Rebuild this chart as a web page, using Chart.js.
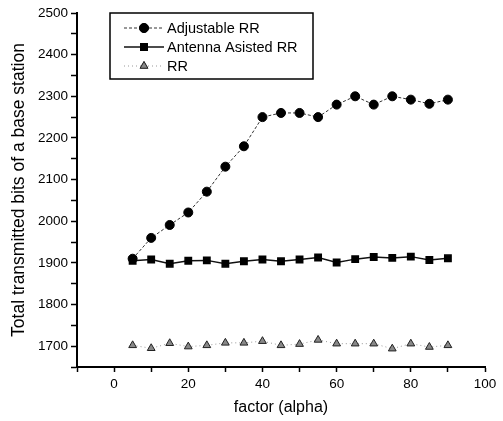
<!DOCTYPE html>
<html>
<head>
<meta charset="utf-8">
<script src="https://cdn.jsdelivr.net/npm/chart.js@4.4.1/dist/chart.umd.min.js"></script>
<style>
    html, body { margin: 0; padding: 0; background: #fff; }
    #wrap { width: 503px; height: 421px; }
</style>
</head>
<body>
<div id="wrap"><canvas id="chart" width="503" height="421"></canvas></div>
<script>
const alphaValues = [5, 10, 15, 20, 25, 30, 35, 40, 45, 50, 55, 60, 65, 70, 75, 80, 85, 90];
const adjustableRR = [1910, 1960, 1991, 2021, 2071, 2131, 2180, 2250, 2260, 2260, 2250, 2280, 2300, 2280, 2300, 2292, 2282, 2292];
const antennaRR = [1905, 1908, 1898, 1905, 1906, 1898, 1904, 1908, 1904, 1908, 1913, 1901, 1909, 1914, 1912, 1915, 1907, 1911];
const plainRR = [1702, 1695, 1707, 1699, 1702, 1708, 1708, 1712, 1702, 1705, 1715, 1706, 1706, 1706, 1694, 1706, 1698, 1702];
const seriesNames = ['Adjustable RR', 'Antenna Asisted RR', 'RR'];

const FONT = '"Liberation Sans", Arial, sans-serif';

function toPoints(values) {
    return alphaValues.map((a, i) => ({ x: a, y: values[i] }));
}

// legend box drawn inside the plot, like the original figure
const boxLegend = {
    id: 'boxLegend',
    afterDatasetsDraw(chart) {
        const ctx = chart.ctx;
        const left = 110, top = 13, w = 203, h = 66;
        ctx.save();
        ctx.fillStyle = '#fff';
        ctx.fillRect(left, top, w, h);
        ctx.strokeStyle = '#000';
        ctx.lineWidth = 1.5;
        ctx.strokeRect(left, top, w, h);
        const rows = [28, 47, 66];
        chart.data.datasets.forEach((ds, i) => {
            const y = rows[i];
            ctx.beginPath();
            ctx.setLineDash(ds.borderDash || []);
            ctx.strokeStyle = ds.borderColor;
            ctx.lineWidth = ds.borderWidth;
            ctx.moveTo(124, y);
            ctx.lineTo(164, y);
            ctx.stroke();
            ctx.setLineDash([]);
            Chart.helpers.drawPoint(ctx, {
                pointStyle: ds.pointStyle,
                radius: ds.pointRadius,
                borderWidth: 1
            }, 144, y);
            ctx.fillStyle = ds.pointBackgroundColor;
            ctx.strokeStyle = ds.pointBorderColor;
            ctx.fill();
            ctx.stroke();
            ctx.fillStyle = '#000';
            ctx.font = '14.5px ' + FONT;
            ctx.textBaseline = 'middle';
            ctx.fillText(seriesNames[i], 167, y + 1);
        });
        ctx.restore();
    }
};

new Chart(document.getElementById('chart'), {
    type: 'line',
    data: {
        datasets: [
            {
                label: seriesNames[0],
                data: toPoints(adjustableRR),
                borderColor: '#333',
                borderWidth: 1,
                borderDash: [3, 2],
                pointStyle: 'circle',
                pointRadius: 4.5,
                pointBackgroundColor: '#000',
                pointBorderColor: '#000'
            },
            {
                label: seriesNames[1],
                data: toPoints(antennaRR),
                borderColor: '#111',
                borderWidth: 1.5,
                pointStyle: 'rect',
                pointRadius: 4.5,
                pointBackgroundColor: '#000',
                pointBorderColor: '#000'
            },
            {
                label: seriesNames[2],
                data: toPoints(plainRR),
                borderColor: '#999',
                borderWidth: 1,
                borderDash: [1, 3],
                pointStyle: 'triangle',
                pointRadius: 4.5,
                pointBackgroundColor: '#888',
                pointBorderColor: '#222'
            }
        ]
    },
    options: {
        responsive: false,
        animation: false,
        devicePixelRatio: 1,
        layout: { padding: { left: 0, top: 13, right: 18, bottom: 0 } },
        plugins: {
            legend: { display: false },
            tooltip: { enabled: false }
        },
        scales: {
            x: {
                type: 'linear',
                min: -10,
                max: 100,
                afterFit: scale => { scale.height = 54; },
                grid: {
                    drawOnChartArea: false,
                    color: '#000',
                    tickLength: 5,
                    tickWidth: 1.5
                },
                border: { color: '#000', width: 2 },
                ticks: {
                    stepSize: 10,
                    color: '#000',
                    padding: 4,
                    maxRotation: 0,
                    autoSkip: false,
                    font: { family: FONT, size: 13.5 },
                    callback: v => (v % 20 === 0 ? v : '')
                },
                title: {
                    display: true,
                    text: 'factor (alpha)',
                    color: '#000',
                    font: { family: FONT, size: 16 },
                    padding: { top: 2 }
                }
            },
            y: {
                type: 'linear',
                min: 1650,
                max: 2500,
                afterFit: scale => { scale.width = 77; },
                grid: {
                    drawOnChartArea: false,
                    color: '#000',
                    tickLength: 6,
                    tickWidth: 1.5
                },
                border: { color: '#000', width: 2 },
                ticks: {
                    stepSize: 50,
                    color: '#000',
                    padding: 3,
                    autoSkip: false,
                    font: { family: FONT, size: 13.5 },
                    callback: v => (v % 100 === 0 ? v : '')
                },
                title: {
                    display: true,
                    text: 'Total transmitted bits of a base station',
                    color: '#000',
                    font: { family: FONT, size: 17.5 },
                    padding: { top: 9, bottom: 0 }
                }
            }
        }
    },
    plugins: [boxLegend]
});
</script>
</body>
</html>
